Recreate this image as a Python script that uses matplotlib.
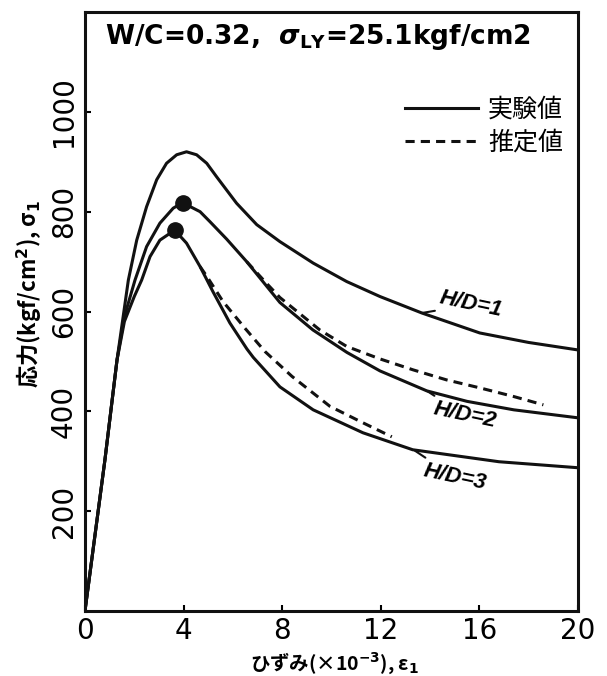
import numpy as np
import matplotlib
matplotlib.use('Agg')
import matplotlib.pyplot as plt

plt.rcParams['font.family'] = ['Noto Sans CJK JP', 'DejaVu Sans']
plt.rcParams['mathtext.fontset'] = 'custom'
plt.rcParams['mathtext.rm'] = 'DejaVu Sans:bold'
plt.rcParams['mathtext.it'] = 'DejaVu Sans:bold:italic'
plt.rcParams['mathtext.bf'] = 'DejaVu Sans:bold'

# strain (x10^-3) and stress (kgf/cm2)
hd1_x = [0, 0.81, 1.3, 1.76, 2.1, 2.5, 2.91, 3.31, 3.72, 4.12, 4.53, 4.94, 5.34, 6.15, 6.97, 7.91, 9.26, 10.62, 11.97, 13.67, 16.02, 18.0, 20.0]
hd1_y = [0, 303, 503, 663, 743, 810, 864, 897, 914, 920, 914, 897, 870, 817, 774, 740, 697, 660, 630, 597, 557, 538, 523]

hd2_x = [0, 0.81, 1.3, 1.6, 2.03, 2.5, 3.04, 3.58, 3.96, 4.67, 5.07, 5.75, 6.56, 7.91, 9.25, 10.63, 11.97, 13.87, 15.5, 17.4, 20.0]
hd2_y = [0, 303, 503, 590, 663, 730, 777, 807, 818, 800, 780, 745, 700, 618, 563, 518, 481, 441, 420, 403, 387]
hd2_est_x = [6.56, 7.3, 7.91, 9.53, 10.62, 11.97, 13.32, 14.67, 16.02, 17.37, 18.6]
hd2_est_y = [700, 660, 628, 563, 530, 505, 483, 463, 447, 430, 413]

hd3_x = [0, 0.81, 1.3, 1.6, 2.0, 2.3, 2.64, 3.04, 3.64, 4.12, 4.67, 5.19, 5.88, 6.57, 6.83, 7.91, 9.26, 11.28, 13.3, 16.8, 20.0]
hd3_y = [0, 303, 503, 580, 630, 663, 710, 743, 763, 737, 690, 640, 577, 525, 508, 449, 403, 357, 323, 299, 287]
hd3_est_x = [4.67, 4.95, 5.6, 6.5, 7.3, 8.4, 9.94, 11.28, 12.45]
hd3_est_y = [690, 670, 620, 566, 520, 470, 410, 377, 349]

peak_x = [3.96, 3.64]
peak_y = [818, 763]

x_ticks = [0, 4, 8, 12, 16, 20]
y_ticks = [200, 400, 600, 800, 1000]

ink = '#111111'
fig = plt.figure(figsize=(6.07, 6.76), dpi=100)
ax = fig.add_axes([0.140, 0.0962, 0.812, 0.886])

ax.plot(hd1_x, hd1_y, '-', color=ink, lw=2.2, label='実験値')
ax.plot(hd2_x, hd2_y, '-', color=ink, lw=2.2)
ax.plot(hd3_x, hd3_y, '-', color=ink, lw=2.2)
ax.plot(hd2_est_x, hd2_est_y, color=ink, lw=2.2, ls=(0, (3, 2)), label='推定値')
ax.plot(hd3_est_x, hd3_est_y, color=ink, lw=2.2, ls=(0, (3, 2)))
ax.plot(peak_x, peak_y, 'o', color=ink, ms=11)

# curve labels with short leader lines
lab = dict(fontsize=16, fontstyle='italic', family='Liberation Sans', fontweight='bold',
           rotation=-12, ha='left', va='center', rotation_mode='anchor',
           arrowprops=dict(arrowstyle='-', color=ink, lw=1.5, shrinkA=0, shrinkB=0))
ax.annotate('H/D=1', xy=(13.67, 597), xytext=(14.4, 627), **lab)
ax.annotate('H/D=2', xy=(13.87, 441), xytext=(14.15, 405), **lab)
ax.annotate('H/D=3', xy=(13.39, 321), xytext=(13.75, 281), **lab)

ax.set_xlim(0, 20)
ax.set_ylim(0, 1200)
ax.set_xticks(x_ticks)
ax.set_yticks(y_ticks)
ax.tick_params(direction='in', length=4, width=1.5, labelsize=20, pad=4)
ax.tick_params(axis='y', labelsize=20, pad=5)
for t in ax.get_xticklabels() + ax.get_yticklabels():
    t.set_family('DejaVu Sans')
plt.setp(ax.get_yticklabels(), rotation=90, va='center')
for s in ax.spines.values():
    s.set_linewidth(2.2)
    s.set_color(ink)

ax.set_xlabel('ひずみ(×10$^{-3}$), ε$_1$', fontsize=14, fontweight='bold', va='center')
ax.xaxis.set_label_coords(0.507, -0.088)
ax.set_ylabel('応力(kgf/cm$^2$), σ$_1$', fontsize=16, fontweight='bold', va='center')
ax.yaxis.set_label_coords(-0.113, 0.53)

fig.text(0.173, 0.945, r'W/C=0.32,  $\sigma_{\mathrm{LY}}$=25.1kgf/cm2', fontsize=19,
         family='DejaVu Sans', fontweight='bold', va='center', ha='left')

ax.legend(loc='upper right', bbox_to_anchor=(0.995, 0.88), frameon=False, fontsize=18,
          handlelength=2.9, handletextpad=0.4, labelspacing=0.3, borderpad=0)

fig.savefig('out.png', dpi=100)
